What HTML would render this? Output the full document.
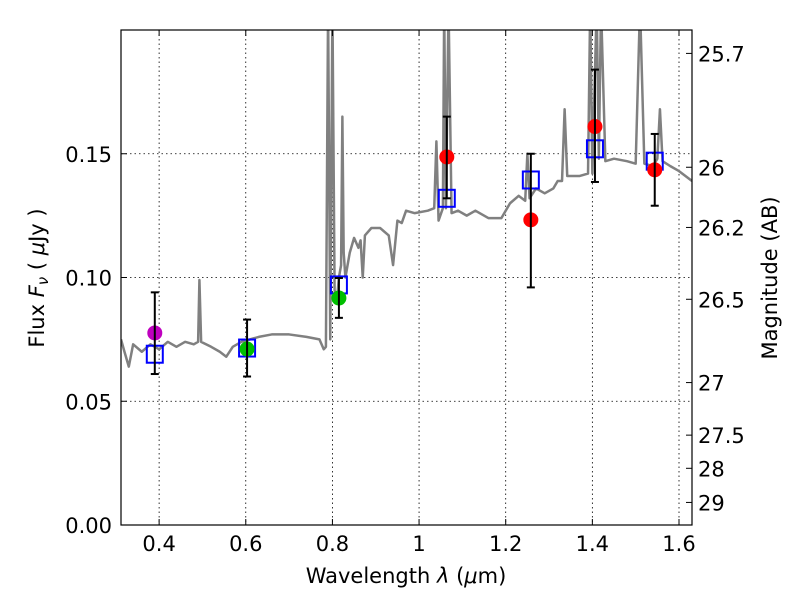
<!DOCTYPE html>
<html><head><meta charset="utf-8"><style>body{margin:0;background:#fff}svg{display:block;font-family:"DejaVu Sans","Liberation Sans",sans-serif}</style></head>
<body>
<svg id="chart" width="800" height="600">
<defs><clipPath id="clip"><rect x="121" y="30" width="571" height="495"/></clipPath></defs>
<rect x="121" y="30" width="571" height="495" fill="#fff"/>
<g id="grid"></g>
<g id="spec" clip-path="url(#clip)"></g>
<g id="marks"></g>
<rect x="121" y="30" width="571" height="495" fill="none" stroke="#000" stroke-width="1.2"/>
<g id="axes"></g>
<text x="406" y="583" font-size="21" text-anchor="middle">Wavelength  <tspan font-style="italic">λ</tspan> (<tspan font-style="italic">μ</tspan>m)</text>
<text transform="translate(44,278) rotate(-90)" font-size="21" text-anchor="middle">Flux  <tspan font-style="italic">F</tspan><tspan font-style="italic" font-size="15" dy="4">ν</tspan><tspan dy="-4">  ( </tspan><tspan font-style="italic">μ</tspan>Jy )</text>
<text transform="translate(777,278) rotate(-90)" font-size="21" text-anchor="middle">Magnitude (AB)</text>
</svg>
<script>
const xTicks=[0.4,0.6,0.8,1.0,1.2,1.4,1.6];
const xTickLabels=["0.4","0.6","0.8","1","1.2","1.4","1.6"];
const yTicks=[0,0.05,0.10,0.15];
const yTickLabels=["0.00","0.05","0.10","0.15"];
const magTicks=[25.7,26,26.2,26.5,27,27.5,28,29];
const magTickLabels=["25.7","26","26.2","26.5","27","27.5","28","29"];
const specWl=[0.312,0.32,0.33,0.34,0.36,0.38,0.40,0.42,0.44,0.46,0.48,0.49,0.493,0.497,0.52,0.54,0.555,0.57,0.59,0.61,0.63,0.66,0.70,0.74,0.77,0.78,0.785,0.79,0.795,0.80,0.805,0.81,0.815,0.82,0.823,0.826,0.83,0.84,0.85,0.86,0.865,0.87,0.875,0.89,0.91,0.93,0.94,0.95,0.96,0.97,0.99,1.02,1.035,1.04,1.045,1.055,1.058,1.062,1.068,1.075,1.09,1.11,1.13,1.16,1.19,1.21,1.23,1.245,1.25,1.255,1.27,1.29,1.31,1.32,1.33,1.336,1.342,1.37,1.39,1.395,1.40,1.41,1.415,1.42,1.43,1.45,1.48,1.50,1.51,1.52,1.54,1.55,1.556,1.562,1.58,1.60,1.63];
const specFlux=[0.075,0.070,0.064,0.073,0.070,0.073,0.071,0.074,0.072,0.074,0.073,0.074,0.099,0.074,0.072,0.070,0.068,0.072,0.074,0.075,0.076,0.077,0.077,0.076,0.075,0.071,0.072,0.21,0.075,0.21,0.095,0.090,0.100,0.105,0.165,0.11,0.100,0.110,0.116,0.112,0.115,0.100,0.117,0.120,0.120,0.117,0.105,0.123,0.122,0.127,0.126,0.127,0.128,0.155,0.123,0.128,0.21,0.128,0.21,0.126,0.127,0.125,0.127,0.124,0.124,0.130,0.133,0.131,0.150,0.132,0.136,0.134,0.136,0.139,0.139,0.168,0.141,0.141,0.142,0.21,0.142,0.21,0.148,0.21,0.147,0.148,0.147,0.146,0.21,0.146,0.145,0.148,0.168,0.147,0.145,0.143,0.139];
const obsWl=[0.39,0.603,0.815,1.064,1.258,1.406,1.544];
const obsFlux=[0.0776,0.0711,0.0917,0.1487,0.1233,0.161,0.1435];
const obsErrLo=[0.061,0.060,0.0837,0.132,0.096,0.1386,0.129];
const obsErrHi=[0.094,0.083,0.0998,0.165,0.150,0.184,0.158];
const obsColor=["#bf00bf","#00bf00","#00bf00","#ff0000","#ff0000","#ff0000","#ff0000"];
const modelFlux=[0.069,0.0715,0.097,0.132,0.1394,0.152,0.147];

const NS="http://www.w3.org/2000/svg";
const X0=0.312,X1=1.63,Y0=0,Y1=0.2;
const sx=v=>121+(v-X0)/(X1-X0)*571;
const sy=v=>525-(v-Y0)/(Y1-Y0)*495;
const magToFlux=m=>Math.pow(10,(23.9-m)/2.5);
function mk(tag,attrs,parent){const e=document.createElementNS(NS,tag);for(const k in attrs)e.setAttribute(k,attrs[k]);parent.appendChild(e);return e;}
const grid=document.getElementById('grid'),axes=document.getElementById('axes'),spec=document.getElementById('spec'),marks=document.getElementById('marks');
xTicks.forEach((t,i)=>{
  const x=sx(t);
  const g=mk('line',{x1:x,x2:x,y1:30,y2:525,stroke:'#000','stroke-width':0.8,'stroke-dasharray':'1.5,3'},grid);
  
  
  mk('line',{x1:x,x2:x,y1:525,y2:519,stroke:'#000'},axes);
  mk('line',{x1:x,x2:x,y1:30,y2:36,stroke:'#000'},axes);
  const tx=mk('text',{x:x,y:551,'font-size':21,'text-anchor':'middle'},axes);
  tx.textContent=xTickLabels[i];
  
  
});
yTicks.forEach((t,i)=>{
  const y=sy(t);
  if(t>0){const g=mk('line',{x1:121,x2:692,y1:y,y2:y,stroke:'#000','stroke-width':0.8,'stroke-dasharray':'1.5,3'},grid);
  
  }
  mk('line',{x1:121,x2:127,y1:y,y2:y,stroke:'#000'},axes);
  const tx=mk('text',{x:112,y:y+8,'font-size':21,'text-anchor':'end'},axes);
  tx.textContent=yTickLabels[i];
  
  
});
magTicks.forEach((m,i)=>{
  const y=sy(magToFlux(m));
  mk('line',{x1:686,x2:692,y1:y,y2:y,stroke:'#000'},axes);
  const tx=mk('text',{x:698,y:y+8,'font-size':21},axes);
  tx.textContent=magTickLabels[i];
  
  
});
const pl=mk('polyline',{points:specWl.map((w,i)=>sx(w)+','+sy(specFlux[i])).join(' '),fill:'none',stroke:'#808080','stroke-width':2.5,'stroke-linejoin':'round'},spec);


obsWl.forEach((w,i)=>{
  const x=sx(w);
  const sq=mk('rect',{x:x-8,y:sy(modelFlux[i])-8.5,width:16,height:17,fill:'none',stroke:'#0000ff','stroke-width':2},marks);
  
  
  const c=mk('circle',{cx:x,cy:sy(obsFlux[i]),r:7.5,fill:obsColor[i]},marks);
  
  
  const e=mk('g',{stroke:'#000','stroke-width':2},marks);
  
  
  mk('line',{x1:x,x2:x,y1:sy(obsErrLo[i]),y2:sy(obsErrHi[i])},e);
  mk('line',{x1:x-4,x2:x+4,y1:sy(obsErrLo[i]),y2:sy(obsErrLo[i])},e);
  mk('line',{x1:x-4,x2:x+4,y1:sy(obsErrHi[i]),y2:sy(obsErrHi[i])},e);
});
</script>
</body></html>
